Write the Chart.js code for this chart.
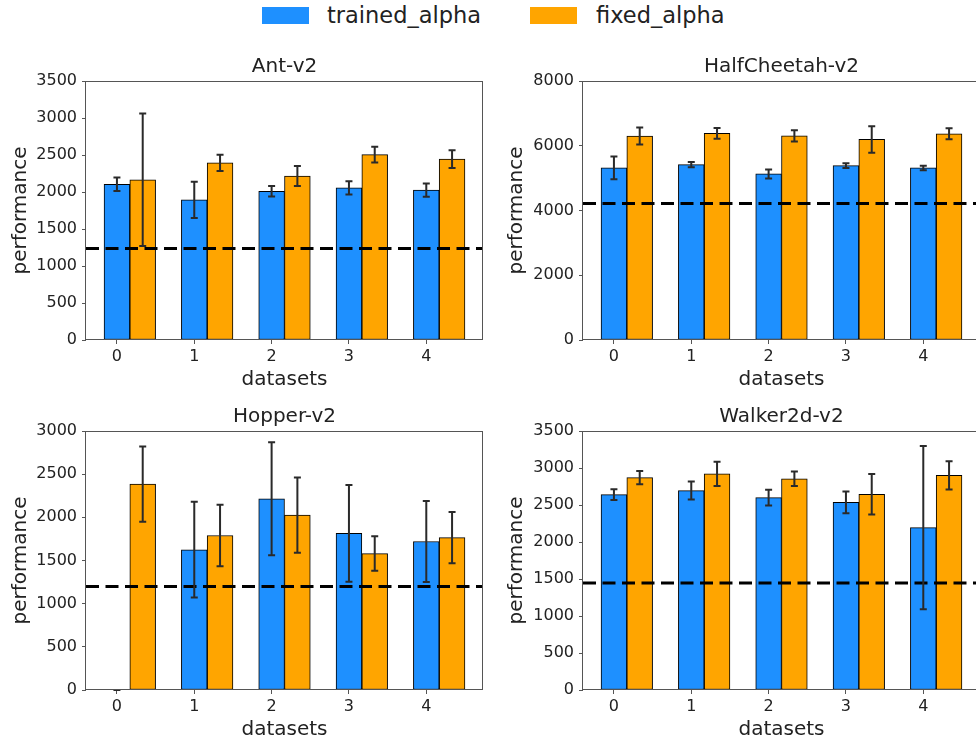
<!DOCTYPE html>
<html>
<head>
<meta charset="utf-8">
<script src="https://cdn.jsdelivr.net/npm/chart.js@4.4.1/dist/chart.umd.min.js"></script>
<style>
  body { margin: 0; background: #fff; width: 976px; height: 740px; overflow: hidden; position: relative; font-family: "DejaVu Sans", sans-serif; }
  canvas { position: absolute; }
  #legend { position: absolute; left: 0; top: 0; width: 976px; height: 36px; }
  #legend .swatch { position: absolute; top: 7px; width: 47px; height: 17px; }
  #legend .label { position: absolute; top: 2px; font-size: 22.5px; line-height: 26px; color: #222; white-space: nowrap; }
</style>
</head>
<body>
<div id="legend"></div>
<canvas id="ant" width="490" height="350" style="left:0;top:40px"></canvas>
<canvas id="cheetah" width="497" height="350" style="left:490px;top:40px"></canvas>
<canvas id="hopper" width="490" height="350" style="left:0;top:390px"></canvas>
<canvas id="walker" width="497" height="350" style="left:490px;top:390px"></canvas>

<script>
// x positions of the dataset groups, also used as tick labels
const categories = [0, 1, 2, 3, 4];
const seriesNames = ['trained_alpha', 'fixed_alpha'];
const seriesColors = ['#1E90FF', '#FFA500'];

const antTrained = [2105, 1895, 2010, 2055, 2025];
const antTrainedErr = [90, 245, 70, 90, 90];
const antFixed = [2165, 2395, 2215, 2505, 2445];
const antFixedErr = [895, 110, 135, 105, 120];
const antBaseline = 1235;

const cheetahTrained = [5315, 5415, 5130, 5385, 5315];
const cheetahTrainedErr = [350, 80, 140, 75, 70];
const cheetahFixed = [6300, 6380, 6305, 6195, 6370];
const cheetahFixedErr = [260, 165, 170, 410, 170];
const cheetahBaseline = 4215;

const hopperTrained = [0, 1625, 2215, 1815, 1720];
const hopperTrainedErr = [0, 555, 655, 560, 470];
const hopperFixed = [2385, 1790, 2025, 1580, 1765];
const hopperFixedErr = [435, 357, 435, 200, 297];
const hopperBaseline = 1200;

const walkerTrained = [2640, 2695, 2600, 2535, 2195];
const walkerTrainedErr = [72, 122, 107, 147, 1103];
const walkerFixed = [2870, 2920, 2855, 2645, 2900];
const walkerFixedErr = [88, 163, 97, 275, 192];
const walkerBaseline = 1445;

const BAR_W = 1 / 3;
const X_MIN = -0.4;
const X_MAX = 4 + 1.5 * BAR_W + 0.2 + 0.1 * BAR_W;
const FONT = '"DejaVu Sans", sans-serif';
const INK = '#222';

Chart.defaults.font.family = FONT;
Chart.defaults.color = INK;

const panels = [
    { id: 'ant', title: 'Ant-v2', trained: antTrained, trainedErr: antTrainedErr, fixed: antFixed, fixedErr: antFixedErr, baseline: antBaseline, yMax: 3500, yStep: 500, padLeft: 11, axisW: 75 },
    { id: 'cheetah', title: 'HalfCheetah-v2', trained: cheetahTrained, trainedErr: cheetahTrainedErr, fixed: cheetahFixed, fixedErr: cheetahFixedErr, baseline: cheetahBaseline, yMax: 8000, yStep: 2000, padLeft: 17, axisW: 76 },
    { id: 'hopper', title: 'Hopper-v2', trained: hopperTrained, trainedErr: hopperTrainedErr, fixed: hopperFixed, fixedErr: hopperFixedErr, baseline: hopperBaseline, yMax: 3000, yStep: 500, padLeft: 11, axisW: 75 },
    { id: 'walker', title: 'Walker2d-v2', trained: walkerTrained, trainedErr: walkerTrainedErr, fixed: walkerFixed, fixedErr: walkerFixedErr, baseline: walkerBaseline, yMax: 3500, yStep: 500, padLeft: 17, axisW: 76 }
];

// vertical error bars with caps, centred on each bar
const errorBars = {
    id: 'errorBars',
    afterDatasetsDraw: (chart) => {
        const ctx = chart.ctx;
        const yScale = chart.scales.y;
        ctx.save();
        ctx.strokeStyle = '#2a2a2a';
        ctx.lineWidth = 2;
        chart.data.datasets.forEach((ds, di) => {
            if (!ds.errors) return;
            chart.getDatasetMeta(di).data.forEach((bar, i) => {
                const v = ds.data[i].y;
                const top = yScale.getPixelForValue(v + ds.errors[i]);
                const bottom = yScale.getPixelForValue(v - ds.errors[i]);
                ctx.beginPath();
                ctx.moveTo(bar.x, top);
                ctx.lineTo(bar.x, bottom);
                ctx.moveTo(bar.x - 3.5, top);
                ctx.lineTo(bar.x + 3.5, top);
                ctx.moveTo(bar.x - 3.5, bottom);
                ctx.lineTo(bar.x + 3.5, bottom);
                ctx.stroke();
            });
        });
        ctx.restore();
    }
};

// box around the plotting area (all four spines)
const frame = {
    id: 'frame',
    afterDraw: (chart) => {
        const { ctx, chartArea: a } = chart;
        ctx.save();
        ctx.strokeStyle = '#555';
        ctx.lineWidth = 1;
        ctx.strokeRect(Math.round(a.left) - 0.5, Math.round(a.top) + 0.5, Math.round(a.right - a.left), Math.round(a.bottom - a.top) - 1);
        ctx.restore();
    }
};

const barSet = (name, color, values, errors, shift) => ({
    type: 'bar',
    label: name,
    data: categories.map((c, i) => ({ x: c + shift, y: values[i] })),
    errors,
    backgroundColor: color,
    borderColor: '#000',
    borderWidth: 1,
    borderSkipped: false,
    grouped: false,
    barPercentage: 1,
    categoryPercentage: 1,
    order: 1
});

const buildPanel = (p) => {
    const canvas = document.getElementById(p.id);
    return new Chart(canvas, {
        type: 'bar',
        data: {
            datasets: [
                barSet(seriesNames[0], seriesColors[0], p.trained, p.trainedErr, 0),
                barSet(seriesNames[1], seriesColors[1], p.fixed, p.fixedErr, BAR_W),
                {
                    // dashed reference level, drawn over the bars
                    type: 'line',
                    data: [{ x: X_MIN, y: p.baseline }, { x: X_MAX, y: p.baseline }],
                    borderColor: '#000',
                    borderWidth: 3,
                    borderDash: [13, 6.5],
                    pointRadius: 0,
                    fill: false,
                    order: 0
                }
            ]
        },
        options: {
            responsive: false,
            animation: false,
            layout: { padding: { top: 17, left: p.padLeft, right: 7, bottom: 0 } },
            plugins: {
                legend: { display: false },
                tooltip: { enabled: false },
                title: {
                    display: true,
                    text: p.title,
                    fullSize: false,
                    color: INK,
                    font: { size: 20, weight: 'normal', lineHeight: '20px' },
                    padding: { top: 0, bottom: 4 }
                }
            },
            scales: {
                x: {
                    type: 'linear',
                    min: X_MIN,
                    max: X_MAX,
                    offset: false,
                    afterBuildTicks: (axis) => { axis.ticks = categories.map(v => ({ value: v })); },
                    afterFit: (axis) => { axis.height = 50; },
                    ticks: { font: { size: 16 }, padding: 3, callback: v => String(v) },
                    grid: { offset: false, drawOnChartArea: false, drawTicks: true, tickLength: 4, tickColor: '#555' },
                    border: { display: false },
                    title: { display: true, text: 'datasets', font: { size: 20, lineHeight: '20px' }, padding: 0 }
                },
                y: {
                    min: 0,
                    max: p.yMax,
                    afterFit: (axis) => { axis.width = p.axisW; },
                    ticks: { stepSize: p.yStep, font: { size: 16 }, padding: 5, callback: v => String(v) },
                    grid: { drawOnChartArea: false, drawTicks: true, tickLength: 4, tickColor: '#555' },
                    border: { display: false },
                    title: { display: true, text: 'performance', font: { size: 20, lineHeight: '20px' }, padding: 0 }
                }
            }
        },
        plugins: [errorBars, frame]
    });
};

const drawLegend = () => {
    const box = document.getElementById('legend');
    const swatchX = [262, 530];
    const labelX = [327, 596];
    seriesNames.forEach((name, i) => {
        const sw = document.createElement('div');
        sw.className = 'swatch';
        sw.style.left = swatchX[i] + 'px';
        sw.style.background = seriesColors[i];
        const lb = document.createElement('div');
        lb.className = 'label';
        lb.style.left = labelX[i] + 'px';
        lb.textContent = name;
        box.appendChild(sw);
        box.appendChild(lb);
    });
};

drawLegend();
panels.forEach(buildPanel);
</script>
</body>
</html>
